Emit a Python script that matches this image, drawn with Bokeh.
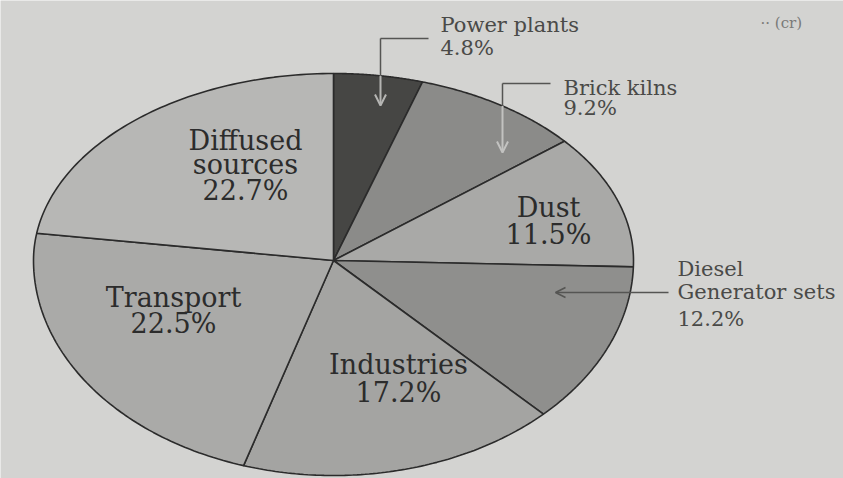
import numpy as np
from bokeh.plotting import figure
from bokeh.models import Range1d, Arrow, OpenHead
from bokeh.core.properties import value
from bokeh.embed import file_html
from bokeh.resources import INLINE

# ---- data ----
sources = ["Power plants", "Brick kilns", "Dust", "Diesel Generator sets",
           "Industries", "Transport", "Diffused sources"]
shares = [4.8, 9.2, 11.5, 12.2, 17.2, 22.5, 22.7]
slice_colors = ["#464644", "#8b8b89", "#a9a9a7", "#8f8f8d", "#a4a4a2", "#aaaaa8", "#b7b7b5"]

inside_lines = {
    "Dust": ["Dust", "11.5%"],
    "Industries": ["Industries", "17.2%"],
    "Transport": ["Transport", "22.5%"],
    "Diffused sources": ["Diffused", "sources", "22.7%"],
}

# ---- layout constants ----
W, H = 843, 478
cx, cy = 333, 218
rx, ry_top, ry_bot = 300, 187, 215


def ell(t):
    t = np.asarray(t, dtype=float)
    ry = np.where(np.cos(t) >= 0, ry_top, ry_bot)
    return cx + rx * np.sin(t), cy + ry * np.cos(t)


def top_edge_y(x):
    return cy + ry_top * np.sqrt(1 - ((x - cx) / rx) ** 2)


p = figure(width=W, height=H, output_backend="svg", toolbar_location=None,
           x_range=Range1d(0, W), y_range=Range1d(0, H),
           x_axis_type=None, y_axis_type=None, min_border=0)
p.grid.visible = False
p.outline_line_color = None
p.background_fill_color = "#d3d3d1"
p.border_fill_color = "#d3d3d1"

# slices
total = sum(shares)
fracs = np.array(shares) / total
starts = np.concatenate([[0], np.cumsum(fracs)[:-1]]) * 2 * np.pi
ends = np.cumsum(fracs) * 2 * np.pi
xs, ys = [], []
for a0, a1 in zip(starts, ends):
    t = np.linspace(a0, a1, 80)
    ex, ey = ell(t)
    xs.append([cx] + list(ex))
    ys.append([cy] + list(ey))
p.patches(xs=xs, ys=ys, fill_color=slice_colors, line_color="#2b2b2b", line_width=1.6)

# inside labels
lab_pos = {
    "Diffused sources": (245, [338, 314, 288]),
    "Dust": (548, [271, 244]),
    "Transport": (173, [181, 155]),
    "Industries": (398, [114, 86]),
}
tx, ty, tt = [], [], []
for name, lines in inside_lines.items():
    x0, yl = lab_pos[name]
    for s, yy in zip(lines, yl):
        tx.append(x0); ty.append(yy); tt.append(s)
p.text(x=tx, y=ty, text=tt, text_align="center", text_baseline="middle",
       text_font=value("DejaVu Serif"), text_font_size="27px", text_color="#2c2c2c")

# outside labels
out_labels = [
    ("Power plants", 440, 454), ("4.8%", 440, 431),
    ("Brick kilns", 563, 391), ("9.2%", 563, 371),
    ("Diesel", 677, 210), ("Generator sets", 677, 187), ("12.2%", 677, 160),
]
p.text(x=[o[1] for o in out_labels], y=[o[2] for o in out_labels],
       text=[o[0] for o in out_labels], text_align="left", text_baseline="middle",
       text_font=value("DejaVu Serif"), text_font_size="21px", text_color="#4a4a48")

p.text(x=[760], y=[456], text=["·· (cr)"], text_align="left", text_baseline="middle",
       text_font=value("DejaVu Serif"), text_font_size="15px", text_color="#7a7a78")

# leader lines
lc = "#555553"
for (xh, xv, yh, yend, inner) in [(428, 380, 440, 373, "#b5b5b3"),
                                   (550, 502, 395, 326, "#c2c2c0")]:
    p.line([xh, xv], [yh, yh], line_color=lc, line_width=1.5)
    ye = float(top_edge_y(xv))
    p.line([xv, xv], [yh, ye], line_color=lc, line_width=1.5)
    p.add_layout(Arrow(x_start=xv, y_start=ye, x_end=xv, y_end=yend,
                       line_color=inner, line_width=2,
                       end=OpenHead(size=11, line_color=inner, line_width=2)))
p.add_layout(Arrow(x_start=668, y_start=186, x_end=555, y_end=186,
                   line_color=lc, line_width=1.5,
                   end=OpenHead(size=10, line_color=lc, line_width=1.5)))

open("out.html", "w").write(file_html(p, INLINE))
